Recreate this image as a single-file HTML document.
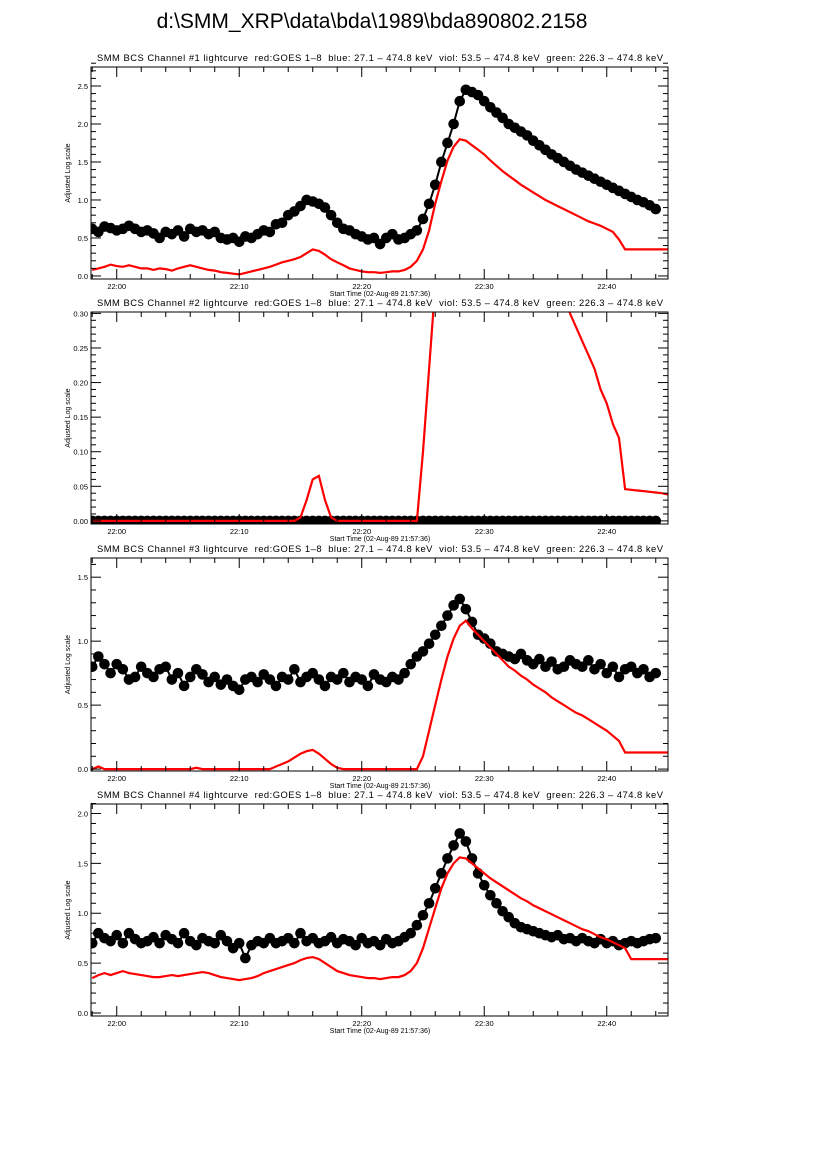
<!DOCTYPE html>
<html><head><meta charset="utf-8"><style>
body{margin:0;background:#fff;width:826px;height:1169px;overflow:hidden}
svg{display:block;font-family:"Liberation Sans",sans-serif}
text{white-space:pre}
</style></head><body>
<svg id="c" width="826" height="1169">
<text x="372" y="28" font-size="21" text-anchor="middle">d:\SMM_XRP\data\bda\1989\bda890802.2158</text>
</svg>
<script>
// Time grid: minutes after 22:00, step 0.5 min starting at -2
const T0 = -2, STEP = 0.5;
const xTickMinutes = [0, 10, 20, 30, 40];
const xTickLabels = ["22:00", "22:10", "22:20", "22:30", "22:40"];

const ch1Black = [0.62,0.58,0.65,0.63,0.6,0.62,0.66,0.62,0.58,0.6,
0.56,0.5,0.58,0.55,0.6,0.52,0.62,0.58,0.6,0.55,
0.58,0.5,0.48,0.5,0.45,0.52,0.5,0.55,0.6,0.58,
0.68,0.7,0.8,0.85,0.92,1.0,0.98,0.95,0.9,0.8,
0.7,0.62,0.6,0.55,0.52,0.48,0.5,0.42,0.5,0.55,
0.48,0.5,0.55,0.6,0.75,0.95,1.2,1.5,1.75,2.0,
2.3,2.45,2.42,2.38,2.3,2.22,2.15,2.08,2.0,1.95,
1.9,1.85,1.78,1.72,1.66,1.6,1.55,1.5,1.45,1.4,
1.36,1.32,1.28,1.24,1.2,1.16,1.12,1.08,1.04,1.0,
0.97,0.93,0.88];
const ch1Red = [0.08,0.1,0.12,0.15,0.13,0.12,0.14,0.12,0.1,0.1,
0.08,0.1,0.09,0.07,0.1,0.12,0.14,0.12,0.1,0.08,
0.07,0.05,0.04,0.03,0.02,0.04,0.06,0.08,0.1,0.12,
0.15,0.18,0.2,0.22,0.25,0.3,0.35,0.33,0.28,0.22,
0.18,0.14,0.1,0.08,0.06,0.05,0.05,0.04,0.05,0.06,
0.06,0.08,0.12,0.2,0.35,0.6,0.95,1.25,1.52,1.7,
1.8,1.78,1.72,1.66,1.6,1.52,1.45,1.38,1.32,1.26,
1.2,1.15,1.1,1.05,1.0,0.96,0.92,0.88,0.84,0.8,
0.76,0.72,0.69,0.66,0.62,0.58,0.48,0.35,0.35,0.35,
0.35,0.35,0.35,0.35,0.35];

const ch2Black = [0,0,0,0,0,0,0,0,0,0, 0,0,0,0,0,0,0,0,0,0, 0,0,0,0,0,0,0,0,0,0,
0,0,0,0,0,0,0,0,0,0, 0,0,0,0,0,0,0,0,0,0, 0,0,0,0,0,0,0,0,0,0,
0,0,0,0,0,0,0,0,0,0, 0,0,0,0,0,0,0,0,0,0, 0,0,0,0,0,0,0,0,0,0, 0,0,0];
const ch2Red = [0,0,0,0,0,0,0,0,0,0, 0,0,0,0,0,0,0,0,0,0, 0,0,0,0,0,0,0,0,0,0,
0,0,0,0,0.005,0.03,0.06,0.065,0.03,0.005,
0,0,0,0,0,0,0,0,0,0,
0,0,0,0,0.1,0.22,0.34,0.5,0.5,0.5,
0.5,0.5,0.5,0.5,0.5,0.5,0.5,0.5,0.5,0.5,
0.5,0.5,0.5,0.5,0.5,0.5,0.5,0.34,0.3,0.28,
0.26,0.24,0.22,0.19,0.17,0.14,0.12,0.046,0.045,0.044,
0.043,0.042,0.041,0.04,0.038];

const ch3Black = [0.8,0.88,0.82,0.75,0.82,0.78,0.7,0.72,0.8,0.75,
0.72,0.78,0.8,0.7,0.75,0.65,0.72,0.78,0.74,0.68,
0.72,0.66,0.7,0.65,0.62,0.7,0.72,0.68,0.74,0.7,
0.65,0.72,0.7,0.78,0.68,0.72,0.75,0.7,0.65,0.72,
0.7,0.75,0.68,0.72,0.7,0.65,0.74,0.7,0.68,0.72,
0.7,0.75,0.82,0.88,0.92,0.98,1.05,1.12,1.2,1.28,
1.33,1.25,1.15,1.05,1.02,0.98,0.92,0.9,0.88,0.86,
0.9,0.85,0.82,0.86,0.8,0.84,0.78,0.8,0.85,0.82,
0.8,0.85,0.78,0.82,0.75,0.8,0.72,0.78,0.8,0.75,
0.78,0.72,0.75];
const ch3Red = [0,0.02,0,0,0,0,0,0,0,0,
0,0,0,0,0,0,0,0.01,0,0,
0,0,0,0,0,0,0,0,0,0,
0.02,0.04,0.06,0.09,0.12,0.14,0.15,0.12,0.08,0.04,
0.01,0,0,0,0,0,0,0,0,0,
0,0,0,0,0.1,0.3,0.5,0.7,0.88,1.02,
1.12,1.16,1.1,1.05,1.0,0.95,0.9,0.85,0.8,0.77,
0.73,0.7,0.66,0.63,0.6,0.56,0.53,0.5,0.47,0.44,
0.42,0.39,0.36,0.33,0.3,0.26,0.22,0.13,0.13,0.13,
0.13,0.13,0.13,0.13,0.13];

const ch4Black = [0.7,0.8,0.75,0.72,0.78,0.7,0.8,0.74,0.7,0.72,
0.76,0.7,0.78,0.74,0.7,0.8,0.72,0.68,0.75,0.72,
0.7,0.78,0.72,0.65,0.7,0.55,0.68,0.72,0.7,0.75,
0.7,0.72,0.75,0.7,0.8,0.72,0.75,0.7,0.72,0.76,
0.7,0.74,0.72,0.68,0.75,0.7,0.72,0.68,0.74,0.7,
0.72,0.76,0.8,0.88,0.98,1.1,1.25,1.4,1.55,1.68,
1.8,1.72,1.55,1.4,1.28,1.18,1.1,1.02,0.96,0.9,
0.86,0.84,0.82,0.8,0.78,0.76,0.78,0.74,0.75,0.72,
0.75,0.72,0.7,0.74,0.7,0.72,0.68,0.7,0.72,0.7,
0.72,0.74,0.75];
const ch4Red = [0.35,0.38,0.4,0.38,0.4,0.42,0.4,0.39,0.38,0.37,
0.36,0.36,0.37,0.38,0.37,0.38,0.39,0.4,0.41,0.4,
0.38,0.36,0.35,0.34,0.33,0.34,0.35,0.37,0.4,0.42,
0.44,0.46,0.48,0.5,0.53,0.55,0.56,0.54,0.5,0.46,
0.42,0.4,0.38,0.37,0.36,0.35,0.35,0.34,0.35,0.36,
0.36,0.38,0.42,0.5,0.65,0.85,1.05,1.25,1.4,1.5,
1.56,1.55,1.5,1.45,1.4,1.35,1.31,1.27,1.23,1.19,
1.15,1.12,1.08,1.05,1.02,0.99,0.96,0.93,0.9,0.87,
0.84,0.82,0.79,0.76,0.74,0.71,0.68,0.65,0.54,0.54,
0.54,0.54,0.54,0.54,0.54];

const yTickLabels1 = ["0.0","0.5","1.0","1.5","2.0","2.5"];
const yTickLabels2 = ["0.00","0.05","0.10","0.15","0.20","0.25","0.30"];
const yTickLabels3 = ["0.0","0.5","1.0","1.5"];
const yTickLabels4 = ["0.0","0.5","1.0","1.5","2.0"];

const panels = [
 {n:1, top:67, bot:279, ymin:-0.04, ymax:2.75, major:0.5, minor:0.1, labels:yTickLabels1, black:ch1Black, red:ch1Red},
 {n:2, top:312, bot:524, ymin:-0.0045, ymax:0.302, major:0.05, minor:0.01, labels:yTickLabels2, black:ch2Black, red:ch2Red},
 {n:3, top:558, bot:771, ymin:-0.015, ymax:1.65, major:0.5, minor:0.1, labels:yTickLabels3, black:ch3Black, red:ch3Red},
 {n:4, top:804, bot:1016, ymin:-0.03, ymax:2.095, major:0.5, minor:0.1, labels:yTickLabels4, black:ch4Black, red:ch4Red}
];
const XL = 91, XR = 668, XMIN = -2.1, XMAX = 45.0;
const NS = "http://www.w3.org/2000/svg";
const svg = document.getElementById('c');
function mk(tag, attrs, parent){ const e=document.createElementNS(NS,tag); for(const k in attrs) e.setAttribute(k,attrs[k]); (parent||svg).appendChild(e); return e; }
const xs = t => XL + (t - XMIN) / (XMAX - XMIN) * (XR - XL);

panels.forEach(p => {
  const ys = v => p.bot - (v - p.ymin) / (p.ymax - p.ymin) * (p.bot - p.top);
  const g = mk('g', {});
  
  
  const title = mk('text', {x:380, y:p.top-6, 'font-size':9.4, 'text-anchor':'middle', 'textLength':566, 'lengthAdjust':'spacing'}, g);
  title.textContent = 'SMM BCS Channel #' + p.n + ' lightcurve  red:GOES 1\u20138  blue: 27.1 \u2013 474.8 keV  viol: 53.5 \u2013 474.8 keV  green: 226.3 \u2013 474.8 keV';
  
  
  const cid = 'clip' + p.n;
  const cp = mk('clipPath', {id:cid}, g);
  mk('rect', {x:XL, y:p.top, width:XR-XL, height:p.bot-p.top}, cp);
  const plot = mk('g', {'clip-path':'url(#'+cid+')'}, g);
  let d = '';
  p.black.forEach((v,i)=>{ d += (i?'L':'M') + xs(T0+i*STEP).toFixed(1) + ' ' + ys(v).toFixed(1); });
  const bl = mk('path', {d:d, fill:'none', stroke:'#000', 'stroke-width':2}, plot);
  
  
  p.black.forEach((v,i)=>{
    const c = mk('circle', {cx:xs(T0+i*STEP), cy:ys(v), r:5.3, fill:'#000'}, plot);
    
    
  });
  let dr = '';
  p.red.forEach((v,i)=>{ dr += (i?'L':'M') + xs(T0+i*STEP).toFixed(1) + ' ' + ys(v).toFixed(1); });
  const rl = mk('path', {d:dr, fill:'none', stroke:'#ff0000', 'stroke-width':2.2}, plot);
  
  
  const fr = mk('rect', {x:XL, y:p.top, width:XR-XL, height:p.bot-p.top, fill:'none', stroke:'#000', 'stroke-width':1}, g);
  
  
  const nMinor = Math.round(p.ymax / p.minor);
  for (let k=0;k<=nMinor;k++){
    const v = k*p.minor; const y = ys(v);
    const isMaj = Math.abs(v/p.major - Math.round(v/p.major))<1e-6;
    const L = isMaj?10:5;
    mk('line',{x1:XL,x2:XL+L,y1:y,y2:y,stroke:'#000','stroke-width':1},g);
    mk('line',{x1:XR,x2:XR-L,y1:y,y2:y,stroke:'#000','stroke-width':1},g);
  }
  p.labels.forEach((lab,k)=>{
    const t = mk('text',{x:XL-3,y:ys(k*p.major)+3,'font-size':7.5,'text-anchor':'end'},g);
    t.textContent = lab;
    
    
  });
  for (let m=-2; m<=45; m+=2){
    const x = xs(m); const isMaj = m%10===0; const L = isMaj?10:5;
    mk('line',{x1:x,x2:x,y1:p.bot,y2:p.bot-L,stroke:'#000','stroke-width':1},g);
    mk('line',{x1:x,x2:x,y1:p.top,y2:p.top+L,stroke:'#000','stroke-width':1},g);
  }
  xTickMinutes.forEach((m,k)=>{
    const t = mk('text',{x:xs(m),y:p.bot+10,'font-size':7.5,'text-anchor':'middle'},g);
    t.textContent = xTickLabels[k];
    
    
  });
  const xt = mk('text',{x:380,y:p.bot+17,'font-size':7,'text-anchor':'middle'},g);
  xt.textContent = 'Start Time (02-Aug-89 21:57:36)';
  
  
  const yc = (p.top+p.bot)/2;
  const yt = mk('text',{x:70,y:yc,'font-size':7,'text-anchor':'middle',transform:'rotate(-90 70 '+yc+')'},g);
  yt.textContent = 'Adjusted Log scale';
  
  
});
</script>
</body></html>
